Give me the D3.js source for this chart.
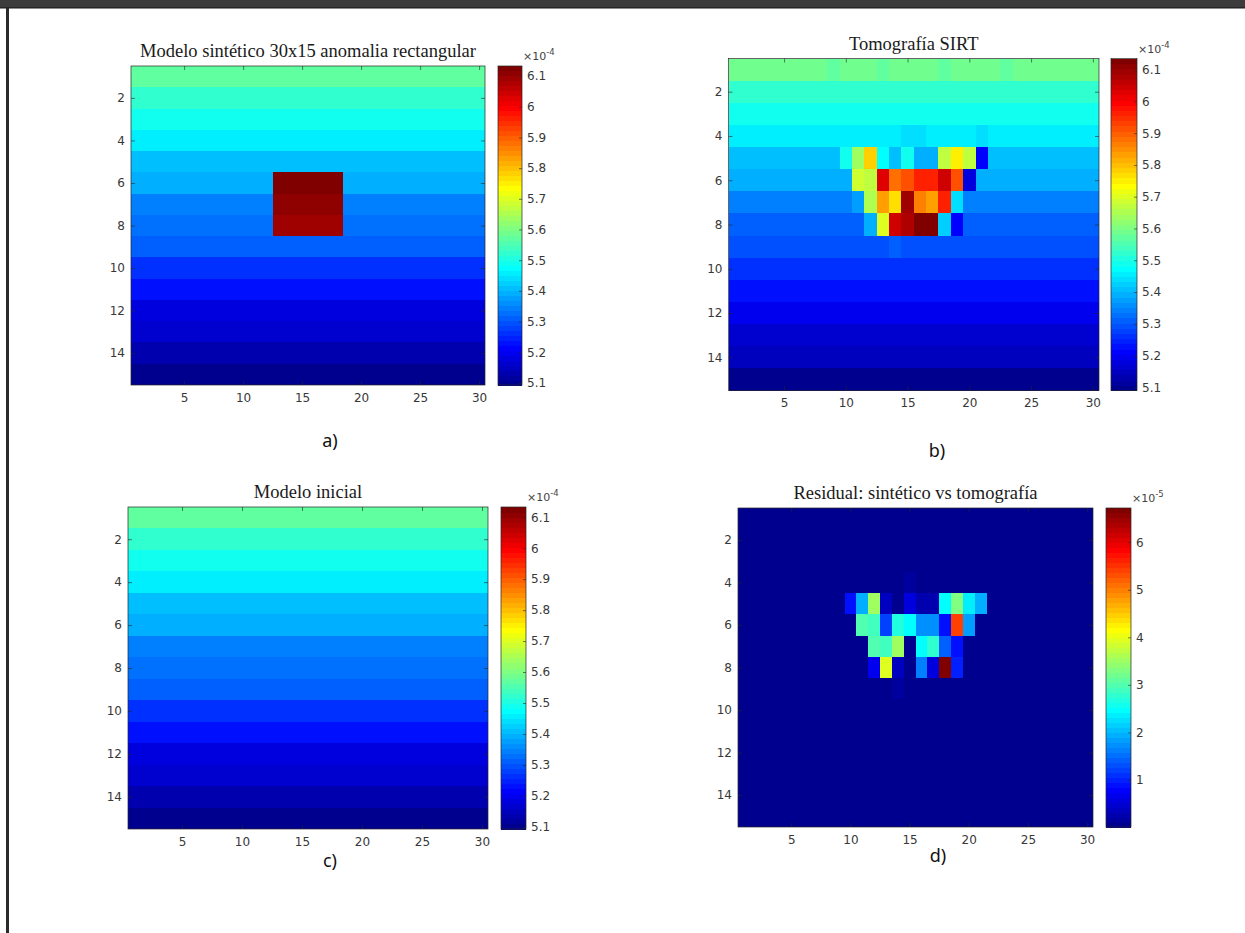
<!DOCTYPE html>
<html><head><meta charset="utf-8">
<script src="https://cdn.jsdelivr.net/npm/d3@7"></script>
<style>body{margin:0;background:#fff}svg{display:block}</style>
</head><body>
<svg id="chart" width="1245" height="933"></svg>
<script>
// ---------------- DATA (values in units of the colorbar exponent) ----------------
const columnNumbers = d3.range(1, 31);      // 30 columns
const rowNumbers = d3.range(1, 16);         // 15 rows
const xTickValues = [5, 10, 15, 20, 25, 30];
const yTickValues = [2, 4, 6, 8, 10, 12, 14];
const slownessTicks = [5.1, 5.2, 5.3, 5.4, 5.5, 5.6, 5.7, 5.8, 5.9, 6, 6.1];   // x10^-4
const residualTicks = [1, 2, 3, 4, 5, 6];                                      // x10^-5

// initial (layered) model, one value per row (x10^-4)
const initialLayers = [5.572, 5.524, 5.499, 5.459, 5.410, 5.394, 5.345, 5.329, 5.312, 5.264, 5.231, 5.190, 5.166, 5.134, 5.093];
// rectangular anomaly of the synthetic model
const anomalyColumns = [13, 14, 15, 16, 17, 18];
const anomalyRows = [6, 7, 8];
const anomalyValues = [6.133, 6.108, 6.092];

// SIRT tomography: layer background + individual cells [row, col, value] (x10^-4)
const tomographyLayers = [5.588, 5.523, 5.490, 5.457, 5.408, 5.392, 5.351, 5.310, 5.294, 5.261, 5.229, 5.196, 5.163, 5.139, 5.090];
const tomographyCells = [
  [1, 9, 5.572], [1, 13, 5.572], [1, 18, 5.572], [1, 23, 5.572],
  [4, 15, 5.441], [4, 16, 5.441], [4, 21, 5.441],
  [5, 10, 5.482], [5, 11, 5.637], [5, 12, 5.784], [5, 13, 5.474], [5, 15, 5.482], [5, 16, 5.392], [5, 17, 5.392],
  [5, 18, 5.670], [5, 19, 5.751], [5, 20, 5.670], [5, 21, 5.212],
  [6, 11, 5.686], [6, 12, 5.670], [6, 13, 6.021], [6, 14, 5.890], [6, 15, 5.907], [6, 16, 5.964], [6, 17, 5.964],
  [6, 18, 6.046], [6, 19, 5.907], [6, 20, 5.180],
  [7, 11, 5.376], [7, 12, 5.653], [7, 13, 5.833], [7, 14, 5.767], [7, 15, 6.095], [7, 16, 5.866], [7, 17, 5.833],
  [7, 18, 5.964], [7, 19, 5.441],
  [8, 12, 5.392], [8, 13, 5.702], [8, 14, 6.046], [8, 15, 6.078], [8, 16, 6.135], [8, 17, 6.130], [8, 18, 5.425], [8, 19, 5.212],
  [9, 14, 5.310]
];

// residual |synthetic - tomography| (x10^-5)
const residualFloor = 0.01;
const residualCells = [
  [4, 15, 0.16], [9, 14, 0.16],
  [5, 10, 0.89], [5, 11, 1.94], [5, 12, 3.52], [5, 13, 0.42], [5, 15, 0.58], [5, 16, 0.26], [5, 17, 0.26],
  [5, 18, 2.47], [5, 19, 3.31], [5, 20, 2.36], [5, 21, 1.94],
  [6, 11, 2.99], [6, 12, 2.89], [6, 13, 1.21], [6, 14, 2.68], [6, 15, 2.47], [6, 16, 1.73], [6, 17, 1.73],
  [6, 18, 0.89], [6, 19, 5.41], [6, 20, 1.84],
  [7, 12, 2.99], [7, 13, 2.89], [7, 14, 3.52], [7, 16, 2.47], [7, 17, 2.78], [7, 18, 1.42], [7, 19, 0.89],
  [8, 12, 0.73], [8, 13, 3.94], [8, 14, 0.37], [8, 16, 1.63], [8, 17, 0.58], [8, 18, 6.72], [8, 19, 1.00]
];

// ---------------- GRIDS built from the arrays ----------------
const layerGrid = layers => rowNumbers.map((r, i) => columnNumbers.map(() => layers[i]));
const initialGrid = layerGrid(initialLayers);
const syntheticGrid = layerGrid(initialLayers);
anomalyRows.forEach((r, i) => anomalyColumns.forEach(c => { syntheticGrid[r - 1][c - 1] = anomalyValues[i]; }));
const tomographyGrid = layerGrid(tomographyLayers);
tomographyCells.forEach(([r, c, v]) => { tomographyGrid[r - 1][c - 1] = v; });
const residualGrid = rowNumbers.map(() => columnNumbers.map(() => residualFloor));
residualCells.forEach(([r, c, v]) => { residualGrid[r - 1][c - 1] = v; });

const extentOf = g => d3.extent(g.flat());
const syntheticClim = extentOf(syntheticGrid);

// ---------------- MATLAB jet(64) ----------------
function jet(m) {
  const n = Math.ceil(m / 4);
  const u = [];
  for (let i = 1; i <= n; i++) u.push(i / n);
  for (let i = 0; i < n - 1; i++) u.push(1);
  for (let i = n; i >= 1; i--) u.push(i / n);
  const off = Math.ceil(n / 2) - (m % 4 === 1 ? 1 : 0);
  const J = Array.from({length: m}, () => [0, 0, 0]);
  const g = u.map((_, k) => off + k + 1);
  const r = g.map(x => x + n).filter(x => x <= m);
  const b = g.map(x => x - n).filter(x => x >= 1);
  const gg = g.filter(x => x <= m);
  r.forEach((idx, k) => J[idx - 1][0] = u[k]);
  gg.forEach((idx, k) => J[idx - 1][1] = u[k]);
  b.forEach((idx, k) => J[idx - 1][2] = u[u.length - b.length + k]);
  return J.map(([R, G, B]) => d3.rgb(R * 255, G * 255, B * 255).formatHex());
}
const jetColors = jet(64);
function colorOf(v, [lo, hi]) {
  let idx = Math.floor((v - lo) / (hi - lo) * 64);
  idx = Math.max(0, Math.min(63, idx));
  return jetColors[idx];
}

// ---------------- LAYOUT ----------------
const panels = [
  {title: 'Modelo sintético 30x15 anomalia rectangular', grid: syntheticGrid, clim: syntheticClim,
   box: [131, 66, 485, 385], cb: [498, 522], ticks: slownessTicks, exp: '-4', label: 'a)', lx: 330, ly: 447},
  {title: 'Tomografía SIRT', grid: tomographyGrid, clim: extentOf(tomographyGrid),
   box: [728.5, 58.5, 1099, 390.5], cb: [1111, 1137], ticks: slownessTicks, exp: '-4', label: 'b)', lx: 937, ly: 457},
  {title: 'Modelo inicial', grid: initialGrid, clim: syntheticClim,
   box: [128, 507, 488, 829], cb: [501, 526], ticks: slownessTicks, exp: '-4', label: 'c)', lx: 330, ly: 867},
  {title: 'Residual: sintético vs tomografía', grid: residualGrid, clim: extentOf(residualGrid),
   box: [738, 508, 1093, 827], cb: [1106, 1131], ticks: residualTicks, exp: '-5', label: 'd)', lx: 938, ly: 862}
];

const svg = d3.select('#chart');
svg.append('rect').attr('width', 1245).attr('height', 933).attr('fill', '#fff');
// window frame
svg.append('rect').attr('x', 0).attr('y', 0).attr('width', 1245).attr('height', 8).attr('fill', '#3c3c3c');
svg.append('rect').attr('x', 0).attr('y', 7).attr('width', 1245).attr('height', 1).attr('fill', '#252525');
svg.append('rect').attr('x', 0).attr('y', 8).attr('width', 1245).attr('height', 1).attr('fill', '#8c8c8c');
svg.append('rect').attr('x', 6).attr('y', 8).attr('width', 3).attr('height', 925).attr('fill', '#2b2b2b');

const tickFont = 'DejaVu Sans, sans-serif';
const axisColor = '#262626';

function styleAxis(g) {
  g.select('.domain').remove();
  g.attr('font-family', tickFont).attr('font-size', 12);
  g.selectAll('.tick line').attr('stroke', axisColor).attr('stroke-width', 0.6);
  g.selectAll('.tick text').attr('fill', '#383838');
}

panels.forEach(p => {
  const [x0, y0, x1, y1] = p.box;
  const xs = d3.scaleLinear().domain([0.5, 30.5]).range([x0, x1]);
  const ys = d3.scaleLinear().domain([0.5, 15.5]).range([y0, y1]);
  const g = svg.append('g');

  // cells
  const cells = [];
  p.grid.forEach((row, ri) => row.forEach((v, ci) => cells.push({r: ri + 1, c: ci + 1, v})));
  g.append('g').attr('shape-rendering', 'crispEdges').selectAll('rect').data(cells).join('rect')
    .attr('x', d => xs(d.c - 0.5)).attr('y', d => ys(d.r - 0.5))
    .attr('width', d => xs(d.c + 0.5) - xs(d.c - 0.5) + 0.4)
    .attr('height', d => ys(d.r + 0.5) - ys(d.r - 0.5) + 0.4)
    .attr('fill', d => colorOf(d.v, p.clim));

  // axes (ticks inside, box on)
  g.append('g').attr('transform', `translate(0,${y1})`)
    .call(d3.axisBottom(xs).tickValues(xTickValues).tickSize(-4).tickPadding(8)).call(styleAxis);
  g.append('g').attr('transform', `translate(0,${y0})`)
    .call(d3.axisTop(xs).tickValues(xTickValues).tickSize(-4).tickFormat('')).call(styleAxis);
  g.append('g').attr('transform', `translate(${x0},0)`)
    .call(d3.axisLeft(ys).tickValues(yTickValues).tickSize(-4).tickPadding(6)).call(styleAxis);
  g.append('g').attr('transform', `translate(${x1},0)`)
    .call(d3.axisRight(ys).tickValues(yTickValues).tickSize(-4).tickFormat('')).call(styleAxis);
  g.append('rect').attr('x', x0).attr('y', y0).attr('width', x1 - x0).attr('height', y1 - y0)
    .attr('fill', 'none').attr('stroke', axisColor).attr('stroke-width', 0.7);

  // title
  g.append('text').attr('x', (x0 + x1) / 2).attr('y', y0 - 9).attr('text-anchor', 'middle')
    .attr('font-family', 'Liberation Serif, serif').attr('font-size', 18.5).attr('fill', '#1a1a1a')
    .text(p.title);

  // colorbar
  const [cx0, cx1] = p.cb;
  const cs = d3.scaleLinear().domain(p.clim).range([y1, y0]);
  const bandH = (y1 - y0) / 64;
  g.append('g').attr('shape-rendering', 'crispEdges').selectAll('rect').data(jetColors).join('rect')
    .attr('x', cx0).attr('width', cx1 - cx0)
    .attr('y', (d, i) => y1 - (i + 1) * bandH).attr('height', bandH + 0.5)
    .attr('fill', d => d);
  g.append('g').attr('transform', `translate(${cx1},0)`)
    .call(d3.axisRight(cs).tickValues(p.ticks).tickSize(-3).tickPadding(5).tickFormat(d => String(d)))
    .call(styleAxis);
  g.selectAll('g:last-child .tick text');
  g.append('rect').attr('x', cx0).attr('y', y0).attr('width', cx1 - cx0).attr('height', y1 - y0)
    .attr('fill', 'none').attr('stroke', axisColor).attr('stroke-width', 0.7);
  const ex = g.append('text').attr('x', cx1 + 1).attr('y', y0 - 6)
    .attr('font-family', tickFont).attr('fill', '#444');
  ex.append('tspan').attr('font-size', 11).text('×10');
  ex.append('tspan').attr('font-size', 8.5).attr('dy', -5).text(p.exp);

  // panel label
  svg.append('text').attr('x', p.lx).attr('y', p.ly).attr('text-anchor', 'middle')
    .attr('font-family', 'Noto Sans, sans-serif').attr('font-size', 18).attr('fill', '#111')
    .text(p.label);
});
</script>
</body></html>
